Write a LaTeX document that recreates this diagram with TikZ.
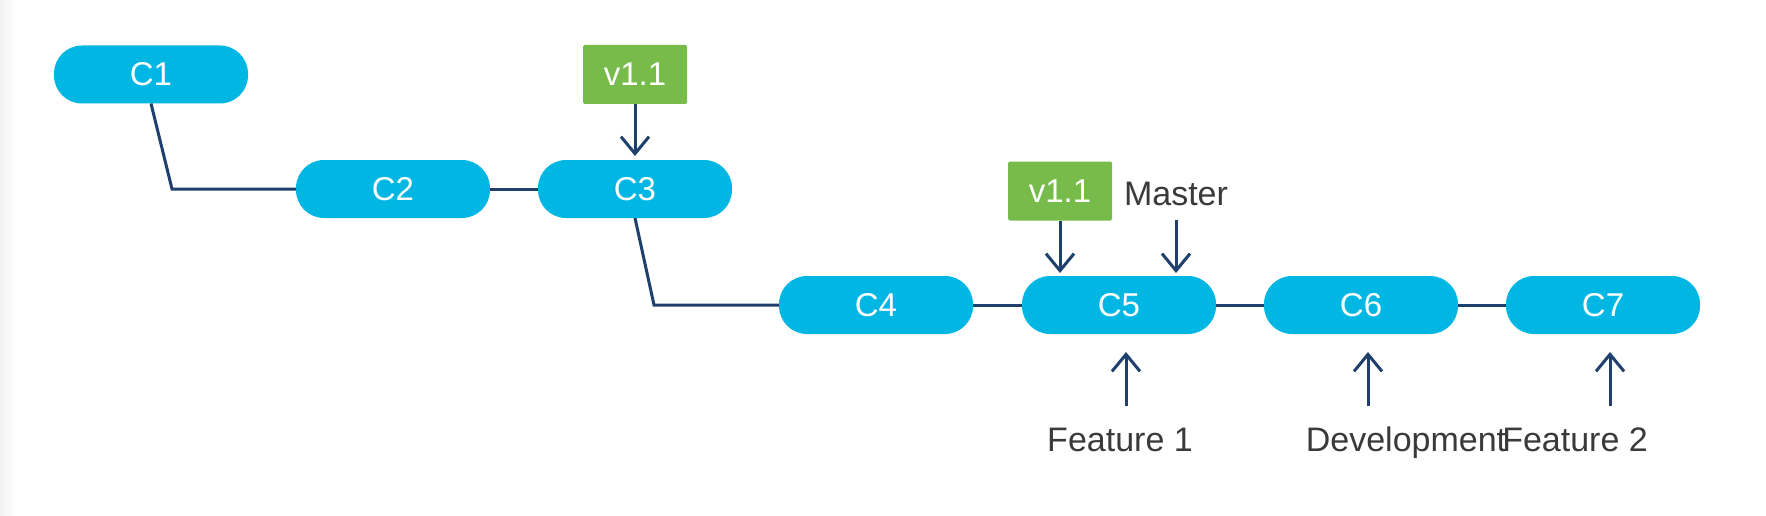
\documentclass[tikz,border=0pt]{standalone}
\usepackage{fontspec}
\setmainfont{Liberation Sans}
\usetikzlibrary{arrows.meta}
\definecolor{commitblue}{HTML}{00B7E4}
\definecolor{taggreen}{HTML}{77BB4B}
\definecolor{navy}{HTML}{1F3F6C}
\definecolor{labelgray}{HTML}{3A3A3A}
\tikzset{
  commit/.style={fill=commitblue, rounded corners=28pt, minimum width=194pt, minimum height=58pt, inner sep=0pt, outer sep=0pt, text=white, font=\fontsize{33}{40}\selectfont},
  tagbox/.style={fill=taggreen, rounded corners=1.5pt, minimum width=104pt, minimum height=59pt, inner sep=0pt, outer sep=0pt, text=white, font=\fontsize{33}{40}\selectfont},
  lbl/.style={inner sep=0pt, outer sep=0pt, anchor=base, text=labelgray, font=\fontsize{34}{40}\selectfont},
  link/.style={draw=navy, line width=3pt},
  ptr/.style={draw=navy, line width=3pt, -{Straight Barb[length=17pt,width=28pt]}}
}
\begin{document}
\begin{tikzpicture}[x=1pt,y=-1pt]
\useasboundingbox (0,0) rectangle (1766,516);
\fill[white] (0,0) rectangle (1766,516);
\shade[left color=black!5, right color=white] (0,0) rectangle (16,516);
% commits
\node[commit] (c1) at (151,74.5) {C1};
\node[commit] (c2) at (393,189) {C2};
\node[commit] (c3) at (635,189) {C3};
\node[commit] (c4) at (876,305) {C4};
\node[commit] (c5) at (1119,305) {C5};
\node[commit] (c6) at (1361,305) {C6};
\node[commit] (c7) at (1603,305) {C7};
% tags
\node[tagbox] (t1) at (635,74.5) {v1.1};
\node[tagbox] (t2) at (1060,191) {v1.1};
% labels
\node[lbl] (master) at (1176,205) {Master};
\node[lbl] (f1) at (1120,451) {Feature 1};
\node[lbl] (dev) at (1406,451) {Development};
\node[lbl] (f2) at (1575,451) {Feature 2};
% bend points
\path (c1.south) ++(21,0) coordinate (k1);
\path (c3.south) ++(19,0) coordinate (k2);
% links
\draw[link] (c1.south) -- (k1 |- c2.west) -- (c2.west);
\draw[link] (c2.east) -- (c3.west);
\draw[link] (c3.south) -- (k2 |- c4.west) -- (c4.west);
\draw[link] (c4.east) -- (c5.west);
\draw[link] (c5.east) -- (c6.west);
\draw[link] (c6.east) -- (c7.west);
% pointers
\draw[ptr, shorten >=4pt] (t1.south) -- (c3.north);
\draw[ptr, shorten >=3pt] (t2.south) -- (t2.south |- c5.north);
\draw[ptr, shorten <=15pt, shorten >=3pt] (master.south) -- (master.south |- c5.north);
\draw[ptr] ([xshift=7pt,yshift=-72pt]c5.south) -- ([xshift=7pt,yshift=-18pt]c5.south);
\draw[ptr] ([xshift=7pt,yshift=-72pt]c6.south) -- ([xshift=7pt,yshift=-18pt]c6.south);
\draw[ptr] ([xshift=7pt,yshift=-72pt]c7.south) -- ([xshift=7pt,yshift=-18pt]c7.south);
\end{tikzpicture}
\end{document}
